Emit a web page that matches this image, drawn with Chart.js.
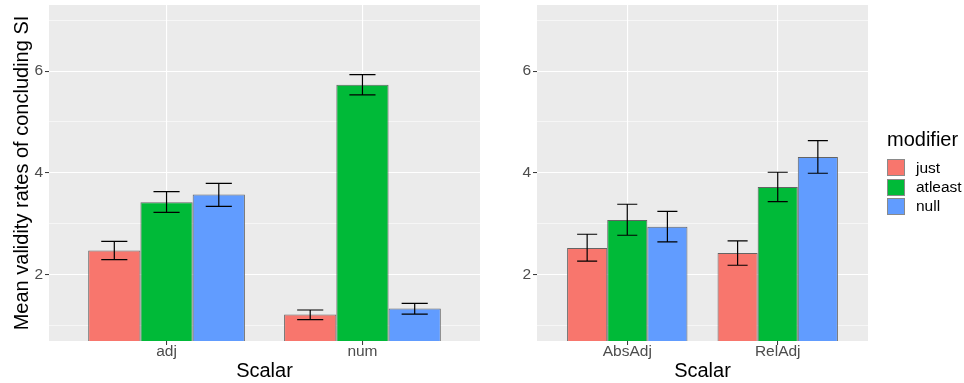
<!DOCTYPE html>
<html>
<head>
<meta charset="utf-8">
<script src="https://cdn.jsdelivr.net/npm/chart.js@4/dist/chart.umd.min.js"></script>
<style>
  body { margin: 0; background: #fff; font-family: "Liberation Sans", Arial, sans-serif; }
  #wrap { position: relative; width: 964px; height: 383px; }
  .panel { position: absolute; top: 0; }
  #legend { position: absolute; left: 887px; top: 129px; }
  #legend .ttl { font-size: 20px; line-height: 20px; color: #000; margin-bottom: 9px; }
  #legend .row { display: flex; align-items: center; height: 19.4px; }
  #legend .key { width: 16px; height: 15px; border: 1px solid #8a8a8a; margin-right: 11px; }
  #legend .lab { font-size: 15.5px; color: #000; }
</style>
</head>
<body>
<div id="wrap">
  <div class="panel" style="left:0"><canvas id="chartL" width="482" height="383"></canvas></div>
  <div class="panel" style="left:482px"><canvas id="chartR" width="482" height="383"></canvas></div>
  <div id="legend"></div>
</div>
<script>
// datos
var modifiers = ["just", "atleast", "null"];
var colores = ["#F8766D", "#00BA38", "#619CFF"];

var catsL = ["adj", "num"];
var justL = [2.47, 1.21];
var atleastL = [3.42, 5.73];
var nullL = [3.57, 1.33];
var justLoL = [2.29, 1.11], justHiL = [2.65, 1.30];
var atleastLoL = [3.22, 5.53], atleastHiL = [3.63, 5.93];
var nullLoL = [3.34, 1.22], nullHiL = [3.79, 1.43];

var catsR = ["AbsAdj", "RelAdj"];
var justR = [2.52, 2.42];
var atleastR = [3.07, 3.72];
var nullR = [2.94, 4.31];
var justLoR = [2.26, 2.18], justHiR = [2.79, 2.66];
var atleastLoR = [2.77, 3.43], atleastHiR = [3.38, 4.01];
var nullLoR = [2.64, 3.99], nullHiR = [3.24, 4.63];

var yTicks = [1, 2, 3, 4, 5, 6, 7];
var yTitle = "Mean validity rates of concluding SI";
var xTitle = "Scalar";
var fuente = "'Liberation Sans', Arial, sans-serif";

// fondo gris del panel
const fondoPanel = {
  id: "fondoPanel",
  beforeDraw(chart) {
    const a = chart.chartArea, ctx = chart.ctx;
    ctx.save();
    ctx.fillStyle = "#EBEBEB";
    ctx.fillRect(a.left, a.top, a.right - a.left, a.bottom - a.top);
    ctx.restore();
  }
};

// barras de error
const barrasError = {
  id: "barrasError",
  afterDatasetsDraw(chart) {
    const ctx = chart.ctx, y = chart.scales.y;
    ctx.save();
    ctx.strokeStyle = "#000";
    ctx.lineWidth = 1.2;
    chart.data.datasets.forEach(function(ds, i) {
      const meta = chart.getDatasetMeta(i);
      meta.data.forEach(function(bar, j) {
        const x = bar.x, w = bar.width * 0.25;
        const yLo = y.getPixelForValue(ds.errLo[j]);
        const yHi = y.getPixelForValue(ds.errHi[j]);
        ctx.beginPath();
        ctx.moveTo(x - w, yHi); ctx.lineTo(x + w, yHi);
        ctx.moveTo(x, yHi); ctx.lineTo(x, yLo);
        ctx.moveTo(x - w, yLo); ctx.lineTo(x + w, yLo);
        ctx.stroke();
      });
    });
    ctx.restore();
  }
};

function armarDataset(label, color, vals, lo, hi) {
  return {
    label: label,
    data: vals.map(function(v, i) { return { x: i + 1, y: v }; }),
    errLo: lo,
    errHi: hi,
    backgroundColor: color,
    borderColor: "#646464",
    borderWidth: 1,
    barPercentage: 1.0,
    categoryPercentage: 0.8
  };
}

function crearChart(id, cats, datasets, conTitulo, yWidth, padRight) {
  const CANVAS = document.getElementById(id);
  return new Chart(CANVAS, {
    type: "bar",
    data: { datasets: datasets },
    options: {
      responsive: false,
      animation: false,
      layout: { padding: { top: 5, right: padRight, left: 0, bottom: 0 } },
      plugins: { legend: { display: false }, tooltip: { enabled: false } },
      scales: {
        x: {
          type: "linear",
          min: 0.4,
          max: 2.6,
          offset: false,
          afterBuildTicks: function(scale) {
            scale.ticks = cats.map(function(c, i) { return { value: i + 1 }; });
          },
          afterFit: function(scale) {
            scale.height = 42;
            scale.paddingLeft = 0;
            scale.paddingRight = 0;
          },
          ticks: {
            padding: -1,
            color: "#4D4D4D",
            font: { family: fuente, size: 15.5, lineHeight: 1 },
            callback: function(v) { return cats[Math.round(v) - 1]; }
          },
          grid: { offset: false, color: "#FFFFFF", lineWidth: 1.1, tickColor: "#333333", tickLength: 4, tickWidth: 1 },
          border: { display: false },
          title: {
            display: true, text: xTitle, color: "#000",
            font: { family: fuente, size: 20 },
            padding: { top: 0, bottom: 0 }
          }
        },
        y: {
          min: 0.69,
          max: 7.3,
          afterBuildTicks: function(scale) {
            scale.ticks = yTicks.map(function(v) { return { value: v }; });
          },
          afterFit: function(scale) {
            scale.width = yWidth;
            scale.paddingTop = 0;
            scale.paddingBottom = 0;
          },
          ticks: {
            padding: 2,
            color: "#4D4D4D",
            font: { family: fuente, size: 15.5 },
            callback: function(v) { return v % 2 === 0 ? v : ""; }
          },
          grid: {
            color: "#FFFFFF",
            lineWidth: function(c) { return c.tick && c.tick.value % 2 === 0 ? 1.1 : 0.55; },
            tickColor: function(c) { return c.tick && c.tick.value % 2 === 0 ? "#333333" : "rgba(0,0,0,0)"; },
            tickLength: 4,
            tickWidth: 1
          },
          border: { display: false },
          title: {
            display: conTitulo, text: yTitle, color: "#000",
            font: { family: fuente, size: 20 },
            padding: { top: 10, bottom: 0 }
          }
        }
      }
    },
    plugins: [fondoPanel, barrasError]
  });
}

crearChart("chartL", catsL, [
  armarDataset(modifiers[0], colores[0], justL, justLoL, justHiL),
  armarDataset(modifiers[1], colores[1], atleastL, atleastLoL, atleastHiL),
  armarDataset(modifiers[2], colores[2], nullL, nullLoL, nullHiL)
], true, 49, 2);

crearChart("chartR", catsR, [
  armarDataset(modifiers[0], colores[0], justR, justLoR, justHiR),
  armarDataset(modifiers[1], colores[1], atleastR, atleastLoR, atleastHiR),
  armarDataset(modifiers[2], colores[2], nullR, nullLoR, nullHiR)
], false, 55, 96);

// leyenda
var leg = document.getElementById("legend");
var html = '<div class="ttl">modifier</div>';
for (var i = 0; i < modifiers.length; i++) {
  html += '<div class="row"><div class="key" style="background:' + colores[i] + '"></div><div class="lab">' + modifiers[i] + '</div></div>';
}
leg.innerHTML = html;
</script>
</body>
</html>
